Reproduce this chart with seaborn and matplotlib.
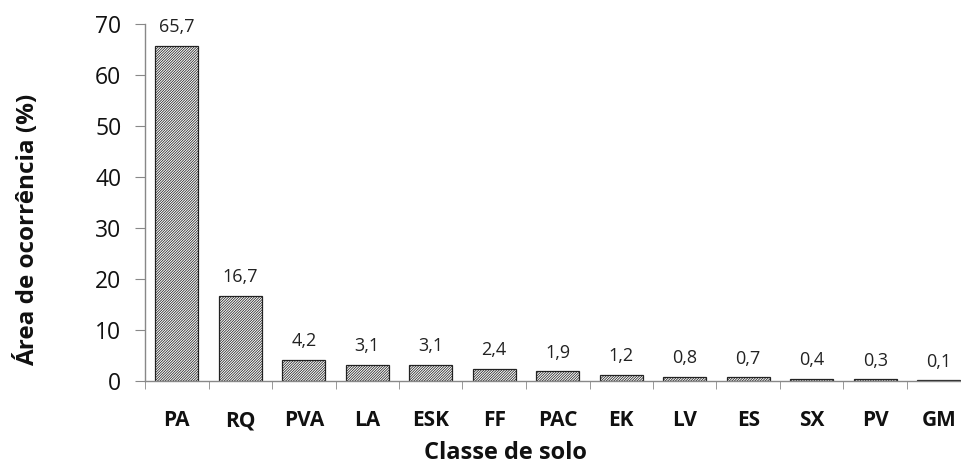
import matplotlib
matplotlib.use("Agg")
import matplotlib.pyplot as plt
import seaborn as sns
import pandas as pd
import numpy as np

categories = ["PA", "RQ", "PVA", "LA", "ESK", "FF", "PAC", "EK", "LV", "ES", "SX", "PV", "GM"]
values = [65.7, 16.7, 4.2, 3.1, 3.1, 2.4, 1.9, 1.2, 0.8, 0.7, 0.4, 0.3, 0.1]
value_labels = ["65,7", "16,7", "4,2", "3,1", "3,1", "2,4", "1,9", "1,2", "0,8", "0,7", "0,4", "0,3", "0,1"]
yticks = [0, 10, 20, 30, 40, 50, 60, 70]

sns.set_style("white")
plt.rcParams['font.family'] = ['Open Sans', 'DejaVu Sans']
plt.rcParams['hatch.linewidth'] = 0.55
plt.rcParams['hatch.color'] = '#555555'

df = pd.DataFrame({"Classe": categories, "Valor": values})

fig = plt.figure(figsize=(9.62, 4.69), dpi=100)
H = 357.0
W = 825.5
ax = fig.add_axes([145/962, 88/469, W/962, H/469])

sns.barplot(data=df, x="Classe", y="Valor", color="white", edgecolor="black",
            linewidth=0.9, width=0.68, ax=ax, saturation=1)
for p in ax.patches:
    p.set_hatch('/' * 13)
    p.set_facecolor('white')
    p.set_edgecolor('#222222')

for i, (v, lab) in enumerate(zip(values, value_labels)):
    ax.annotate(lab, (i, v), xytext=(0, 7), textcoords="offset points",
                ha="center", va="bottom", fontsize=13, color="#222222")

ax.set_xlim(-0.5, len(categories) - 0.5)
ax.set_ylim(0, 70)
ax.set_yticks(yticks)
ax.set_yticklabels([str(t) for t in yticks], fontsize=16.5, color="#111111")
ax.set_xticks(range(len(categories)))
ax.set_xticklabels(categories, fontsize=15, fontweight="bold", color="#111111")
ax.set_xticks(np.arange(-0.5, len(categories), 1.0), minor=True)
ax.tick_params(axis="x", which="major", length=0, pad=21)
ax.tick_params(axis="x", which="minor", length=6, direction="out", color="#888888", bottom=True)
ax.tick_params(axis="y", length=7, direction="out", color="#888888", left=True, pad=10)

for s in ["top", "right"]:
    ax.spines[s].set_visible(False)
for s in ["left", "bottom"]:
    ax.spines[s].set_color("#888888")
    ax.spines[s].set_linewidth(1.0)

ax.set_xlabel("Classe de solo", fontsize=17, fontweight="bold", color="#111111")
ax.set_ylabel("Área de ocorrência (%)", fontsize=17.5, fontweight="bold", color="#111111")
ax.xaxis.set_label_coords((505 - 145) / W, (381 - 453) / H, transform=ax.transAxes)
ax.yaxis.set_label_coords((28 - 145) / W, (381 - 230) / H, transform=ax.transAxes)
ax.xaxis.label.set_va("center")
ax.yaxis.label.set_va("center")

fig.savefig("out.png", dpi=100)
